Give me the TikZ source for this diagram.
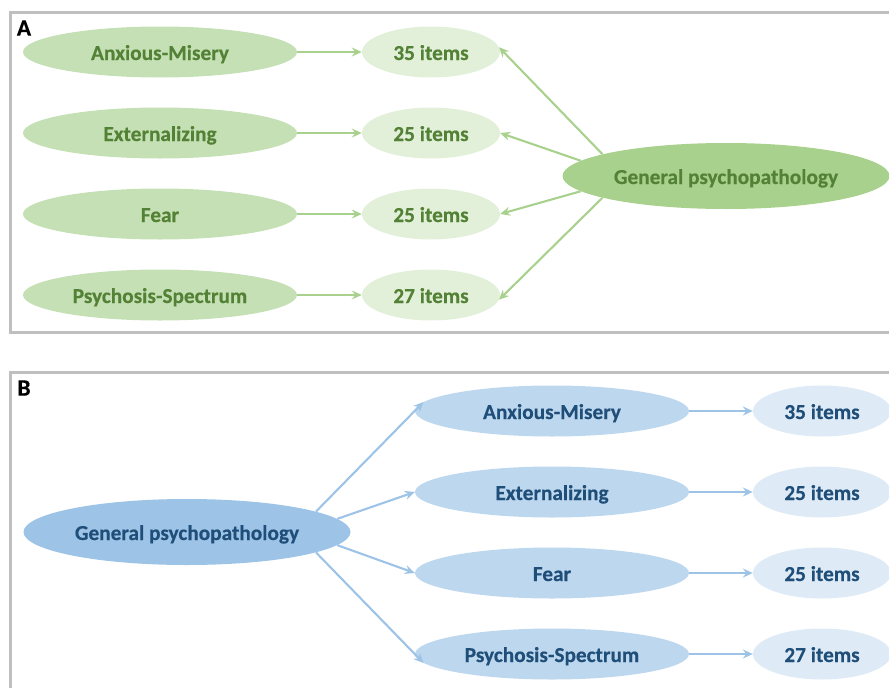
\documentclass[tikz,border=0pt]{standalone}
\usepackage{fontspec}
\setmainfont{Carlito}[BoldFeatures={FakeBold=0.35}]
\usetikzlibrary{shapes.geometric,arrows.meta}
\definecolor{rowA}{HTML}{C5E0B4}
\definecolor{itemA}{HTML}{E2F0D9}
\definecolor{genA}{HTML}{A9D18E}
\definecolor{txtA}{HTML}{538135}
\definecolor{rowB}{HTML}{BDD7EE}
\definecolor{itemB}{HTML}{DEEBF7}
\definecolor{genB}{HTML}{9DC3E6}
\definecolor{txtB}{HTML}{1F4E79}
\definecolor{frm}{HTML}{BFBFBF}
\begin{document}
\begin{tikzpicture}[x=1pt,y=-1pt,
  font=\fontsize{21.3}{25}\selectfont\bfseries,
  ell/.style={ellipse,draw=none,inner sep=0pt,text height=16pt,text depth=0pt},
  rowbox/.style={ell,minimum width=274pt,minimum height=51pt},
  itembox/.style={ell,minimum width=138pt,minimum height=51pt},
  genbox/.style={ell,minimum width=327pt,minimum height=66pt},
  arrA/.style={draw=genA,line width=2.1pt,-{Stealth[length=10pt,width=9pt,inset=3.5pt]}},
  arrB/.style={draw=genB,line width=2.1pt,-{Stealth[length=10pt,width=9pt,inset=3.5pt]}},
  frame/.style={draw=frm,line width=3pt},
  panel/.style={text=black,inner sep=0pt,font=\fontsize{23.5}{26}\selectfont\bfseries}]
\useasboundingbox (0,0) rectangle (889,688);
\clip (0,0) rectangle (889,688);
% Panel A
\draw[frame] (10,12) rectangle (905,332);
\node[panel] (labA) at (24,28) {A};
\node[rowbox,fill=rowA,text=txtA] (a1) at (160,52) {Anxious-Misery};
\node[rowbox,fill=rowA,text=txtA] (a2) at (160,133) {Externalizing};
\node[rowbox,fill=rowA,text=txtA] (a3) at (160,214) {Fear};
\node[rowbox,fill=rowA,text=txtA] (a4) at (160,295) {Psychosis-Spectrum};
\node[itembox,fill=itemA,text=txtA] (ia1) at (431,52) {35 items};
\node[itembox,fill=itemA,text=txtA] (ia2) at (431,133) {25 items};
\node[itembox,fill=itemA,text=txtA] (ia3) at (431,214) {25 items};
\node[itembox,fill=itemA,text=txtA] (ia4) at (431,295) {27 items};
\node[genbox,fill=genA,text=txtA] (gA) at (726,176) {General psychopathology};
\draw[arrA] (a1) -- (ia1);
\draw[arrA] (a2) -- (ia2);
\draw[arrA] (a3) -- (ia3);
\draw[arrA] (a4) -- (ia4);
\draw[arrA] (gA.170.5) -- (ia1.4);
\draw[arrA] (gA.174) -- (ia2.0);
\draw[arrA] (gA.186) -- (ia3.0);
\draw[arrA] (gA.190) -- (ia4.-4);
% Panel B
\draw[frame] (10,372) rectangle (905,700);
\node[panel] (labB) at (24,388) {B};
\node[genbox,fill=genB,text=txtB] (gB) at (187,532) {General psychopathology};
\node[rowbox,fill=rowB,text=txtB] (b1) at (552,411) {Anxious-Misery};
\node[rowbox,fill=rowB,text=txtB] (b2) at (552,492) {Externalizing};
\node[rowbox,fill=rowB,text=txtB] (b3) at (552,573) {Fear};
\node[rowbox,fill=rowB,text=txtB] (b4) at (552,654) {Psychosis-Spectrum};
\node[itembox,fill=itemB,text=txtB] (ib1) at (822,411) {35 items};
\node[itembox,fill=itemB,text=txtB] (ib2) at (822,492) {25 items};
\node[itembox,fill=itemB,text=txtB] (ib3) at (822,573) {25 items};
\node[itembox,fill=itemB,text=txtB] (ib4) at (822,654) {27 items};
\draw[arrB] (b1) -- (ib1);
\draw[arrB] (b2) -- (ib2);
\draw[arrB] (b3) -- (ib3);
\draw[arrB] (b4) -- (ib4);
\draw[arrB] (gB.9.2) -- (b1.176);
\draw[arrB] (gB.5.7) -- (b2.180);
\draw[arrB] (gB.-5.7) -- (b3.180);
\draw[arrB] (gB.-9.2) -- (b4.184);
\end{tikzpicture}
\end{document}
